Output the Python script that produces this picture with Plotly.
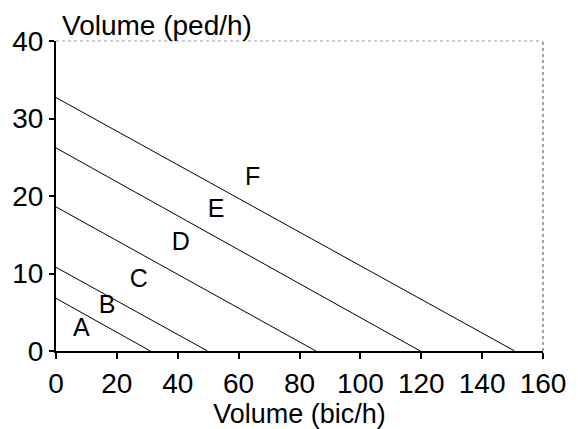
import plotly.graph_objects as go

# LOS boundary lines: y-intercept (ped/h) and x-intercept (bic/h)
ped_intercepts = [6.8, 10.8, 18.6, 26.2, 32.7]
bic_intercepts = [31, 49.8, 85.4, 119.7, 150.7]

los_labels = ["A", "B", "C", "D", "E", "F"]
label_x = [8.3, 16.8, 27.2, 41.0, 52.6, 64.6]
label_y = [2.7, 5.7, 9.1, 13.8, 18.1, 22.2]

x_ticks = [0, 20, 40, 60, 80, 100, 120, 140, 160]
y_ticks = [0, 10, 20, 30, 40]

FONT = "Liberation Sans, Arial, sans-serif"
FS = 28

fig = go.Figure()
for yi, xi in zip(ped_intercepts, bic_intercepts):
    fig.add_trace(go.Scatter(x=[0, xi], y=[yi, 0], mode="lines",
                             line=dict(color="black", width=1), showlegend=False,
                             hoverinfo="skip"))

fig.add_trace(go.Scatter(x=label_x, y=label_y, mode="text", text=los_labels,
                         textfont=dict(size=25, color="black", family=FONT),
                         showlegend=False, hoverinfo="skip"))

# dotted top and right frame
fig.add_shape(type="line", xref="paper", yref="paper", x0=0, x1=1, y0=1, y1=1,
              line=dict(color="#999", width=1, dash="dot"))
fig.add_shape(type="line", xref="paper", yref="paper", x0=1, x1=1, y0=0, y1=1,
              line=dict(color="#444", width=1, dash="dot"))

fig.add_annotation(text="Volume (ped/h)", xref="paper", yref="paper", x=0.008, y=1,
                   xanchor="left", yanchor="bottom", yshift=-2, showarrow=False,
                   font=dict(size=FS, color="black", family=FONT))

fig.update_xaxes(range=[0, 160], tickvals=x_ticks, ticks="outside", ticklen=6,
                 tickwidth=1.5, tickcolor="black", showline=True, linecolor="black",
                 linewidth=2, showgrid=False, zeroline=False,
                 tickfont=dict(size=FS, color="black", family=FONT),
                 title=dict(text="Volume (bic/h)", font=dict(size=27, color="black", family=FONT),
                            standoff=0))
fig.update_yaxes(range=[0, 40], tickvals=y_ticks, ticks="outside", ticklen=5,
                 tickwidth=1.5, tickcolor="black", showline=True, linecolor="black",
                 linewidth=2, showgrid=False, zeroline=False,
                 tickfont=dict(size=FS, color="black", family=FONT))

fig.update_layout(width=578, height=429, margin=dict(l=53, r=25, t=41, b=76),
                  plot_bgcolor="white", paper_bgcolor="white",
                  font=dict(family=FONT, color="black"))

fig.write_html("out.html")
